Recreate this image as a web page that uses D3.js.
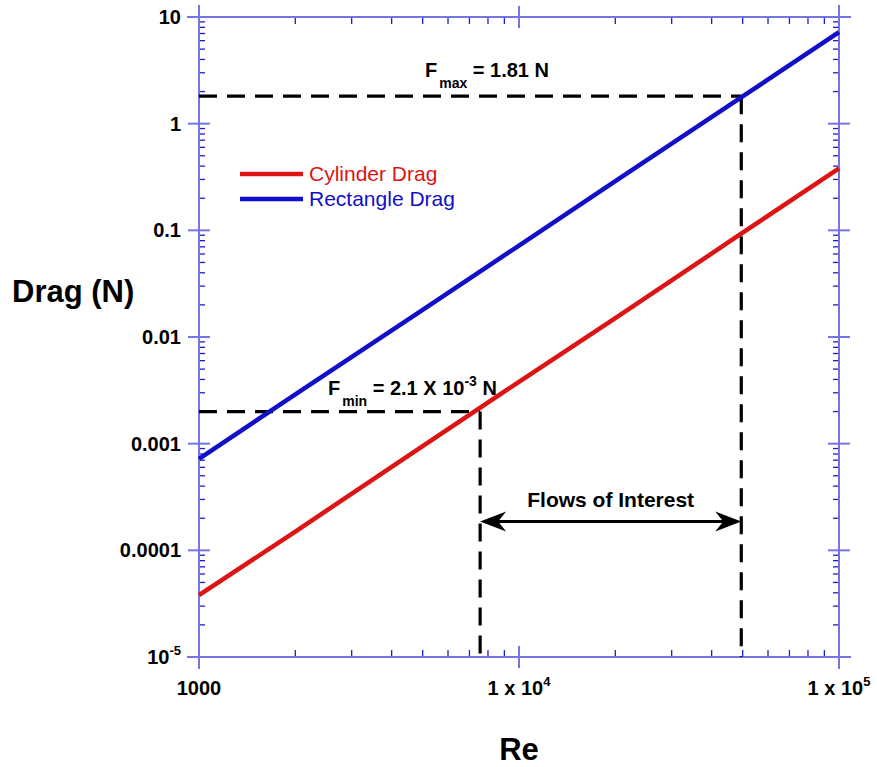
<!DOCTYPE html>
<html>
<head>
<meta charset="utf-8">
<script src="https://cdn.jsdelivr.net/npm/d3@7"></script>
<style>
  body { margin: 0; background: #fff; }
  text { font-family: Arial, "Liberation Sans", sans-serif; }
</style>
</head>
<body>
<svg id="chart" width="877" height="767"></svg>
<script>
// values
var reynolds = [1000, 2000, 5000, 10000, 20000, 50000, 100000];
var cylinderDrag = [3.8e-5, 1.5e-4, 9.5e-4, 3.8e-3, 0.015, 0.095, 0.38];
var rectangleDrag = [7.2e-4, 2.9e-3, 0.018, 0.072, 0.29, 1.8, 7.2];
var yTickValues = [1e-5, 1e-4, 1e-3, 0.01, 0.1, 1, 10];
var yTickLabels = ['10|-5', '0.0001', '0.001', '0.01', '0.1', '1', '10'];
var xTickValues = [1000, 10000, 100000];
var xTickLabels = ['1000', '1 x 10|4', '1 x 10|5'];
var fMin = {re: 7560, drag: 2.0e-3};
var fMax = {re: 49500, drag: 1.81};

var svg = d3.select('#chart');
var plotLeft = 199, plotTop = 17, w = 640, h = 640;

var x = d3.scaleLog().domain([1000, 100000]).range([plotLeft, plotLeft + w]);
var y = d3.scaleLog().domain([1e-5, 10]).range([plotTop + h, plotTop]);

var frameColor = '#7474e6';
var tickColor = '#1c1cd0';

// minor ticks
var minorX = x.ticks().filter(function (d) { return xTickValues.indexOf(d) < 0; });
var minorY = y.ticks().filter(function (d) { return yTickValues.indexOf(d) < 0; });

var g = svg.append('g').attr('class', 'axes');

g.selectAll('.mx-b').data(minorX).enter().append('line')
    .attr('x1', function (d) { return x(d); })
    .attr('x2', function (d) { return x(d); })
    .attr('y1', plotTop + h).attr('y2', plotTop + h - 7)
    .attr('stroke', tickColor).attr('stroke-width', 1.3);
g.selectAll('.mx-t').data(minorX).enter().append('line')
    .attr('x1', function (d) { return x(d); })
    .attr('x2', function (d) { return x(d); })
    .attr('y1', plotTop).attr('y2', plotTop + 7)
    .attr('stroke', tickColor).attr('stroke-width', 1.3);
g.selectAll('.my-l').data(minorY).enter().append('line')
    .attr('y1', function (d) { return y(d); })
    .attr('y2', function (d) { return y(d); })
    .attr('x1', plotLeft).attr('x2', plotLeft + 6)
    .attr('stroke', tickColor).attr('stroke-width', 1.3);
g.selectAll('.my-r').data(minorY).enter().append('line')
    .attr('y1', function (d) { return y(d); })
    .attr('y2', function (d) { return y(d); })
    .attr('x1', plotLeft + w).attr('x2', plotLeft + w - 6)
    .attr('stroke', tickColor).attr('stroke-width', 1.3);

// major ticks cross the frame
[plotTop, plotTop + h].forEach(function (yy) {
    g.selectAll(null).data(xTickValues).enter().append('line')
        .attr('x1', function (d) { return x(d); })
        .attr('x2', function (d) { return x(d); })
        .attr('y1', yy - 11).attr('y2', yy + 11)
        .attr('stroke', frameColor).attr('stroke-width', 2);
});
[plotLeft, plotLeft + w].forEach(function (xx) {
    g.selectAll(null).data(yTickValues).enter().append('line')
        .attr('y1', function (d) { return y(d); })
        .attr('y2', function (d) { return y(d); })
        .attr('x1', xx - 11).attr('x2', xx + 11)
        .attr('stroke', frameColor).attr('stroke-width', 2);
});

// frame lines, a bit longer than the plot
g.append('line').attr('x1', plotLeft).attr('x2', plotLeft).attr('y1', plotTop - 12).attr('y2', plotTop + h + 12)
    .attr('stroke', frameColor).attr('stroke-width', 2);
g.append('line').attr('x1', plotLeft + w).attr('x2', plotLeft + w).attr('y1', plotTop - 12).attr('y2', plotTop + h + 12)
    .attr('stroke', frameColor).attr('stroke-width', 2);
g.append('line').attr('x1', plotLeft - 12).attr('x2', plotLeft + w + 12).attr('y1', plotTop).attr('y2', plotTop)
    .attr('stroke', frameColor).attr('stroke-width', 2);
g.append('line').attr('x1', plotLeft - 12).attr('x2', plotLeft + w + 12).attr('y1', plotTop + h).attr('y2', plotTop + h)
    .attr('stroke', frameColor).attr('stroke-width', 2);

function powerLabel(sel, label, supSize) {
    var parts = label.split('|');
    sel.append('tspan').text(parts[0]);
    if (parts.length > 1) {
        sel.append('tspan').attr('dy', -9).attr('font-size', supSize).text(parts[1]);
    }
}

// y tick labels
g.selectAll('.ylab').data(yTickValues).enter().append('text')
    .attr('x', plotLeft - 18)
    .attr('y', function (d) { return y(d) + 7; })
    .attr('text-anchor', 'end')
    .attr('font-size', 20).attr('font-weight', 'bold')
    .each(function (d, i) { powerLabel(d3.select(this), yTickLabels[i], 13); });

// x tick labels
g.selectAll('.xlab').data(xTickValues).enter().append('text')
    .attr('x', function (d) { return x(d); })
    .attr('y', 695)
    .attr('text-anchor', 'middle')
    .attr('font-size', 20).attr('font-weight', 'bold')
    .each(function (d, i) { powerLabel(d3.select(this), xTickLabels[i], 13); });

// axis titles
svg.append('text').attr('x', 12).attr('y', 302)
    .attr('font-size', 31).attr('font-weight', 'bold').text('Drag (N)');
svg.append('text').attr('x', 519).attr('y', 760).attr('text-anchor', 'middle')
    .attr('font-size', 31).attr('font-weight', 'bold').text('Re');

// reference dashes
var dash = svg.append('g').attr('stroke', '#000').attr('stroke-width', 3.2)
    .attr('stroke-dasharray', '18,10').attr('fill', 'none');
dash.append('line').attr('x1', plotLeft).attr('x2', x(fMin.re))
    .attr('y1', y(fMin.drag)).attr('y2', y(fMin.drag));
dash.append('line').attr('x1', x(fMin.re)).attr('x2', x(fMin.re))
    .attr('y1', y(fMin.drag)).attr('y2', plotTop + h);
dash.append('line').attr('x1', plotLeft).attr('x2', x(fMax.re))
    .attr('y1', y(fMax.drag)).attr('y2', y(fMax.drag));
dash.append('line').attr('x1', x(fMax.re)).attr('x2', x(fMax.re))
    .attr('y1', y(fMax.drag)).attr('y2', plotTop + h);

// curves
var line = d3.line()
    .x(function (d) { return x(d[0]); })
    .y(function (d) { return y(d[1]); });

svg.append('path').datum(d3.zip(reynolds, cylinderDrag))
    .attr('d', line).attr('fill', 'none')
    .attr('stroke', '#dc1414').attr('stroke-width', 4.5);
svg.append('path').datum(d3.zip(reynolds, rectangleDrag))
    .attr('d', line).attr('fill', 'none')
    .attr('stroke', '#1010c8').attr('stroke-width', 4.5);

// legend
var legend = [
    {name: 'Cylinder Drag', color: '#dc1414'},
    {name: 'Rectangle Drag', color: '#1010c8'}
];
var lg = svg.selectAll('.legend').data(legend).enter().append('g')
    .attr('transform', function (d, i) { return 'translate(240,' + (174 + i * 25) + ')'; });
lg.append('line').attr('x1', 0).attr('x2', 63).attr('y1', 0).attr('y2', 0)
    .attr('stroke', function (d) { return d.color; }).attr('stroke-width', 4.5);
lg.append('text').attr('x', 69).attr('y', 7)
    .attr('font-size', 21).attr('fill', function (d) { return d.color; })
    .text(function (d) { return d.name; });

// F labels
var fmaxText = svg.append('text').attr('x', 425).attr('y', 77)
    .attr('font-size', 20).attr('font-weight', 'bold');
fmaxText.append('tspan').text('F');
fmaxText.append('tspan').attr('dx', 2).attr('dy', 11).attr('font-size', 14).text('max');
fmaxText.append('tspan').attr('dy', -11).text(' = 1.81 N');

var fminText = svg.append('text').attr('x', 328).attr('y', 395)
    .attr('font-size', 20).attr('font-weight', 'bold');
fminText.append('tspan').text('F');
fminText.append('tspan').attr('dx', 2).attr('dy', 11).attr('font-size', 14).text('min');
fminText.append('tspan').attr('dy', -11).text(' = 2.1 X 10');
fminText.append('tspan').attr('dy', -9).attr('font-size', 14).text('-3');
fminText.append('tspan').attr('dy', 9).text(' N');

// flows of interest arrow
var ay = 521.5;
var x0 = x(fMin.re), x1 = x(fMax.re);
svg.append('line').attr('x1', x0 + 4).attr('x2', x1 - 4).attr('y1', ay).attr('y2', ay)
    .attr('stroke', '#000').attr('stroke-width', 3);
svg.append('path')
    .attr('d', 'M' + x0 + ',' + ay + ' l26,-10 l-8,10 l8,10 z')
    .attr('fill', '#000');
svg.append('path')
    .attr('d', 'M' + x1 + ',' + ay + ' l-26,-10 l8,10 l-8,10 z')
    .attr('fill', '#000');
svg.append('text').attr('x', (x0 + x1) / 2).attr('y', 507)
    .attr('text-anchor', 'middle').attr('font-size', 21).attr('font-weight', 'bold')
    .text('Flows of Interest');
</script>
</body>
</html>
